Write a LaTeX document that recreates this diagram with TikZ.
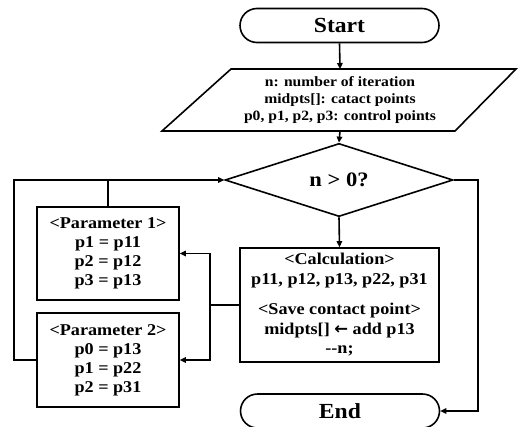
\documentclass[tikz,border=0pt]{standalone}
\usepackage{fontspec}
\setmainfont{Liberation Serif}[FakeStretch=1.1]
\newfontfamily\arrowglyph{DejaVu Sans}
\usetikzlibrary{shapes.misc,shapes.geometric,arrows.meta}
\begin{document}
\begin{tikzpicture}[x=1pt,y=-1pt,
  line width=1.6pt,
  every node/.style={font=\bfseries},
  term/.style={draw,rounded rectangle,minimum width=199pt,minimum height=34pt,inner sep=0pt,font=\bfseries\fontsize{21.5}{24}\selectfont},
  procbox/.style={draw,rectangle,inner sep=0pt,align=center},
  arr/.style={-{Triangle[length=6pt,width=5.5pt]}}
]
\useasboundingbox (0,0) rectangle (518,426);
% terminals
\node[term] (start) at (339.5,25.5) {Start};
\node[term] (end) at (340,411) {End};
% input parallelogram
\node[align=center,inner sep=0pt,font=\bfseries\fontsize{14.2}{17}\selectfont] (in) at (340,100)
  {n: number  of iteration\\ midpts[]:  catact points\\ p0, p1, p2, p3:  control points};
\draw (231,69) -- (516,69) -- (455,131) -- (162,131) -- cycle;
\coordinate (intop) at (340,69);
\coordinate (inbot) at (340,131);
% decision
\node[draw,diamond,minimum width=228pt,minimum height=46pt,inner sep=0pt,
  font=\bfseries\fontsize{20.5}{23}\selectfont] (dec) at (339,180) {n > 0?};
% calculation
\node[procbox,minimum width=199pt,minimum height=114pt,font=\bfseries\fontsize{16.5}{19.5}\selectfont] (calc) at (339.5,305)
  {<Calculation>\\ p11, p12, p13, p22, p31\\[11pt] <Save contact point>\\ midpts[]\ {\arrowglyph\bfseries ←} add p13\\ {-}{-}n;};
% parameters
\node[procbox,minimum width=142pt,minimum height=93pt,font=\bfseries\fontsize{16.5}{19}\selectfont] (p1) at (108,253.5)
  {<Parameter 1>\\ p1 = p11\\ p2 = p12\\ p3 = p13};
\node[procbox,minimum width=142pt,minimum height=94pt,font=\bfseries\fontsize{16.5}{19}\selectfont] (p2) at (108,360)
  {<Parameter 2>\\ p0 = p13\\ p1 = p22\\ p2 = p31};
% connectors
\draw[arr] (start.south) -- (intop);
\draw[arr] (inbot) -- (dec.north);
\draw[arr] (dec.south) -- (calc.north);
\draw[arr] (dec.east) -- (478,180) |- (end.east);
\coordinate (split) at (210,305);
\draw (calc.west) -- (split);
\draw[arr] (split) |- (p1.east);
\draw[arr] (split) |- (p2.east);
\draw (p1.north) -- (p1.north |- dec.west);
\draw[arr] (p2.west) -- (14,360) |- (dec.west);
\end{tikzpicture}
\end{document}
